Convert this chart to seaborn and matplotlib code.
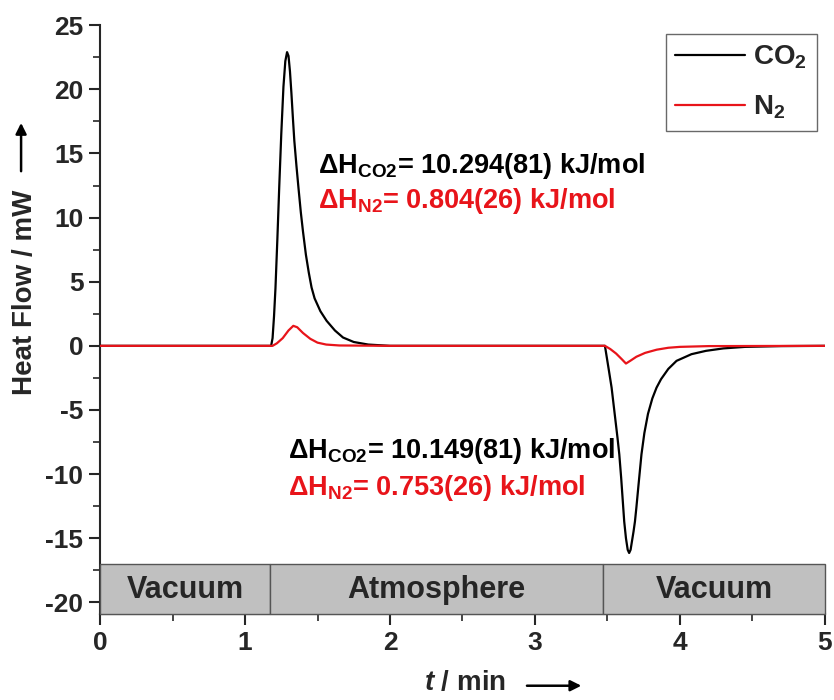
import matplotlib
matplotlib.use("Agg")
import matplotlib.pyplot as plt
import seaborn as sns
import pandas as pd
from matplotlib.patches import Rectangle
from matplotlib.ticker import MultipleLocator

# ---- data ----
t_co2 = [0, 1.18, 1.19, 1.20, 1.21, 1.223, 1.236, 1.25, 1.265, 1.278, 1.29, 1.30, 1.31,
         1.32, 1.33, 1.34, 1.355, 1.368, 1.385, 1.40, 1.42, 1.44, 1.459, 1.48, 1.52,
         1.563, 1.62, 1.676, 1.75, 1.85, 2.0, 3.0,
         3.483, 3.51, 3.529, 3.545, 3.57, 3.582, 3.595, 3.616, 3.628, 3.64, 3.65, 3.66,
         3.67, 3.68, 3.69, 3.70, 3.715, 3.735, 3.755, 3.78, 3.81, 3.839, 3.87, 3.92,
         3.977, 4.08, 4.18, 4.30, 4.45, 4.7, 5.0]
co2 = [0, 0, 0.6, 2.3, 4.5, 8.3, 12.4, 16.5, 20.2, 22.2, 22.9, 22.6, 21.4,
       19.7, 17.8, 16.0, 14.0, 12.4, 10.4, 8.9, 7.1, 5.7, 4.55, 3.7, 2.7,
       1.95, 1.2, 0.65, 0.3, 0.1, 0.0, 0.0,
       0.0, -1.9, -3.26, -4.8, -7.2, -8.46, -10.3, -13.7, -15.0, -15.9, -16.15, -15.9,
       -15.2, -14.5, -13.7, -12.6, -10.8, -8.46, -6.8, -5.3, -4.1, -3.26, -2.6, -1.8,
       -1.17, -0.65, -0.39, -0.2, -0.08, -0.02, 0]

t_n2 = [0, 1.19, 1.22, 1.26, 1.30, 1.333, 1.36, 1.40, 1.45, 1.50, 1.56, 1.65, 2.0,
        3.483, 3.52, 3.56, 3.60, 3.628, 3.66, 3.70, 3.76, 3.84, 3.92, 4.0, 4.2, 5.0]
n2 = [0, 0, 0.2, 0.6, 1.2, 1.56, 1.45, 1.0, 0.55, 0.25, 0.1, 0.03, 0,
      0, -0.25, -0.6, -1.05, -1.38, -1.15, -0.85, -0.55, -0.3, -0.15, -0.08, -0.02, 0]

phase_edges = [0, 1.17, 3.47, 5.0]
phase_labels = ["Vacuum", "Atmosphere", "Vacuum"]

series_labels = ["CO$_\\mathbf{2}$", "N$_\\mathbf{2}$"]
series_colors = ["black", "#e8141a"]

ann_adsorption = ["ΔH$_{\\mathbf{CO2}}$= 10.294(81) kJ/mol", "ΔH$_{\\mathbf{N2}}$= 0.804(26) kJ/mol"]
ann_desorption = ["ΔH$_{\\mathbf{CO2}}$= 10.149(81) kJ/mol", "ΔH$_{\\mathbf{N2}}$= 0.753(26) kJ/mol"]

# ---- style ----
sns.set_theme(style="ticks")
plt.rcParams["font.family"] = ["Liberation Sans", "DejaVu Sans"]
plt.rcParams["font.weight"] = "bold"
plt.rcParams["axes.unicode_minus"] = False
plt.rcParams["mathtext.fontset"] = "custom"
plt.rcParams["mathtext.rm"] = "Liberation Sans:bold"
plt.rcParams["mathtext.bf"] = "Liberation Sans:bold"
plt.rcParams["mathtext.it"] = "Liberation Sans:bold:italic"
plt.rcParams["mathtext.default"] = "bf"

fig = plt.figure(figsize=(8.34, 7.0), dpi=100)
ax = fig.add_axes([0.12, 0.123, 0.869, 0.841])

df_co2 = pd.DataFrame({"t": t_co2, "hf": co2})
df_n2 = pd.DataFrame({"t": t_n2, "hf": n2})
sns.lineplot(data=df_co2, x="t", y="hf", ax=ax, color=series_colors[0], lw=1.6,
             label=series_labels[0], sort=False, zorder=3)
sns.lineplot(data=df_n2, x="t", y="hf", ax=ax, color=series_colors[1], lw=1.6,
             label=series_labels[1], sort=False, zorder=4)

ymin, ymax = -20.9, 25
box_top = -17.0
ax.set_xlim(0, 5)
ax.set_ylim(ymin, ymax)

# phase boxes
for i, lab in enumerate(phase_labels):
    x0, x1 = phase_edges[i], phase_edges[i + 1]
    ax.add_patch(Rectangle((x0, ymin), x1 - x0, box_top - ymin, facecolor="#c0c0c0",
                           edgecolor="#555555", lw=1.0, zorder=5, clip_on=False))
    ax.text((x0 + x1) / 2, (ymin + box_top) / 2 - 0.1, lab, ha="center", va="center",
            fontsize=22, fontweight="bold", zorder=6)

# spines / ticks
for s in ["top", "right"]:
    ax.spines[s].set_visible(False)
ax.spines["left"].set_linewidth(1.5)
ax.spines["bottom"].set_linewidth(1.5)
ax.xaxis.set_major_locator(MultipleLocator(1))
ax.xaxis.set_minor_locator(MultipleLocator(0.5))
ax.yaxis.set_major_locator(MultipleLocator(5))
ax.yaxis.set_minor_locator(MultipleLocator(2.5))
ax.tick_params(which="major", direction="out", length=8, width=1.5, labelsize=19, pad=4)
ax.tick_params(which="minor", direction="out", length=5, width=1.2)
for lbl in ax.get_xticklabels() + ax.get_yticklabels():
    lbl.set_fontweight("bold")
ax.set_xlabel("")
ax.set_ylabel("")

# axis labels with arrows
ax.text(-0.104, 0.547, "Heat Flow / mW", transform=ax.transAxes, rotation=90,
        ha="center", va="center", fontsize=20, fontweight="bold")
ax.annotate("", xy=(-0.109, 0.834), xytext=(-0.109, 0.752), xycoords="axes fraction",
            textcoords="axes fraction",
            arrowprops=dict(arrowstyle="-|>", color="black", lw=1.8, mutation_scale=16,
                            shrinkA=0, shrinkB=0))
ax.text(0.503, -0.117, "$\\mathit{t}$ / min", transform=ax.transAxes,
        ha="center", va="center", fontsize=20, fontweight="bold")
ax.annotate("", xy=(0.664, -0.122), xytext=(0.589, -0.122), xycoords="axes fraction",
            textcoords="axes fraction",
            arrowprops=dict(arrowstyle="-|>", color="black", lw=1.8, mutation_scale=16,
                            shrinkA=0, shrinkB=0))

# annotations
ann_fs = 19.5
ax.text(1.503, 13.45, ann_adsorption[0], color=series_colors[0], fontsize=ann_fs,
        fontweight="bold", ha="left", va="baseline")
ax.text(1.503, 10.72, ann_adsorption[1], color=series_colors[1], fontsize=ann_fs,
        fontweight="bold", ha="left", va="baseline")
ax.text(1.297, -8.75, ann_desorption[0], color=series_colors[0], fontsize=ann_fs,
        fontweight="bold", ha="left", va="baseline")
ax.text(1.297, -11.64, ann_desorption[1], color=series_colors[1], fontsize=ann_fs,
        fontweight="bold", ha="left", va="baseline")

leg = ax.legend(loc="upper right", bbox_to_anchor=(0.989, 0.985), borderaxespad=0,
                fontsize=20, frameon=True, fancybox=False, edgecolor="#444444",
                handlelength=2.5, borderpad=0.35, labelspacing=0.8, handletextpad=0.3)
leg.get_frame().set_linewidth(1.0)
for txt in leg.get_texts():
    txt.set_fontweight("bold")
for h in leg.get_lines():
    h.set_linewidth(1.6)

fig.savefig("out.png", dpi=100)
